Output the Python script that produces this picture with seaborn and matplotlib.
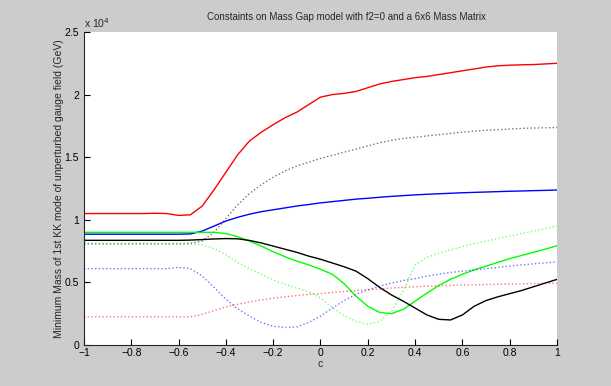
import numpy as np
import pandas as pd
import matplotlib
matplotlib.use("Agg")
import matplotlib.pyplot as plt
import seaborn as sns
from matplotlib.ticker import FuncFormatter

# c values (x axis)
c = np.round(np.arange(-1.0, 1.0001, 0.05), 2)

red_solid = [10500, 10500, 10500, 10500, 10500, 10500, 10520, 10500, 10350, 10400,
             11100, 12400, 13800, 15200, 16300, 17000, 17600, 18150, 18600, 19200,
             19800, 20000, 20100, 20250, 20550, 20850, 21050, 21200, 21350, 21450,
             21600, 21750, 21900, 22050, 22200, 22300, 22350, 22380, 22400, 22450, 22500]
black_dotted = [8100, 8100, 8100, 8100, 8100, 8100, 8100, 8100, 8100, 8120,
                8300, 9000, 10100, 11200, 12100, 12800, 13400, 13900, 14300, 14600,
                14900, 15150, 15400, 15650, 15900, 16150, 16350, 16500, 16600, 16700,
                16800, 16900, 17000, 17080, 17150, 17200, 17250, 17300, 17330, 17350, 17370]
blue_solid = [8850, 8850, 8850, 8850, 8850, 8850, 8850, 8850, 8850, 8870,
              9100, 9500, 9900, 10200, 10450, 10650, 10800, 10950, 11100, 11220,
              11350, 11450, 11550, 11650, 11720, 11800, 11870, 11930, 11990, 12040,
              12080, 12120, 12160, 12190, 12220, 12250, 12280, 12300, 12330, 12350, 12380]
green_solid = [9000, 9000, 9000, 9000, 9000, 9000, 9000, 9000, 9000, 9000,
               9000, 9000, 8900, 8650, 8300, 7900, 7450, 7050, 6700, 6400,
               6050, 5650, 4900, 3900, 3100, 2600, 2500, 2850, 3500, 4150,
               4750, 5250, 5650, 6000, 6300, 6600, 6900, 7150, 7400, 7650, 7930]
black_solid = [8360, 8360, 8360, 8360, 8360, 8360, 8360, 8360, 8360, 8380,
               8420, 8470, 8500, 8480, 8350, 8150, 7900, 7650, 7400, 7100,
               6850, 6550, 6250, 5900, 5300, 4600, 4000, 3500, 2950, 2400,
               2050, 2000, 2400, 3100, 3550, 3850, 4100, 4350, 4650, 4950, 5240]
green_dotted = [8050, 8050, 8050, 8050, 8050, 8050, 8050, 8050, 8050, 8050,
                8000, 7700, 7200, 6600, 6100, 5650, 5200, 4850, 4550, 4250,
                3750, 3000, 2350, 1900, 1650, 1900, 2700, 4300, 6400, 7000,
                7350, 7600, 7850, 8100, 8300, 8500, 8700, 8900, 9100, 9300, 9500]
blue_dotted = [6100, 6100, 6100, 6100, 6100, 6100, 6100, 6100, 6200, 6100,
               5500, 4600, 3650, 2900, 2300, 1800, 1500, 1400, 1450, 1800,
               2300, 2950, 3550, 4050, 4400, 4700, 4950, 5150, 5300, 5500,
               5650, 5800, 5900, 6000, 6100, 6200, 6300, 6400, 6480, 6560, 6650]
red_dotted = [2250, 2250, 2250, 2250, 2250, 2250, 2250, 2250, 2250, 2250,
              2450, 2750, 3050, 3250, 3450, 3600, 3750, 3850, 3950, 4050,
              4100, 4200, 4280, 4350, 4420, 4480, 4550, 4600, 4650, 4700,
              4730, 4760, 4790, 4810, 4830, 4850, 4870, 4890, 4910, 4920, 4930]

series = [
    (red_solid, "#ff0000", "-", 1.0),
    (black_dotted, "#000000", ":", 0.55),
    (blue_solid, "#0000ff", "-", 1.0),
    (green_solid, "#00ff00", "-", 1.0),
    (black_solid, "#000000", "-", 1.0),
    (green_dotted, "#00ff00", ":", 0.55),
    (blue_dotted, "#0000ff", ":", 0.55),
    (red_dotted, "#ff0000", ":", 0.55),
]

sns.set_style("ticks")
plt.rcParams["font.family"] = ["Liberation Sans", "DejaVu Sans"]
plt.rcParams["font.size"] = 7.5

fig = plt.figure(figsize=(6.11, 3.86), dpi=100, facecolor="#cccccc")
ax = fig.add_axes([84 / 611, 1 - 345 / 386, 473 / 611, 313 / 386])
ax.set_facecolor("white")

for vals, col, ls, a in series:
    df = pd.DataFrame({"c": c, "m": vals})
    sns.lineplot(data=df, x="c", y="m", ax=ax, color=col, linestyle=ls,
                 linewidth=1.0, alpha=a)

ax.set_xlim(-1, 1)
ax.set_ylim(0, 25000)
ax.set_xticks(np.arange(-1, 1.01, 0.2))
ax.set_xticklabels(["\u22121", "\u22120.8", "\u22120.6", "\u22120.4", "\u22120.2",
                    "0", "0.2", "0.4", "0.6", "0.8", "1"])
ax.set_yticks(np.arange(0, 25001, 5000))
ax.yaxis.set_major_formatter(FuncFormatter(lambda v, p: "%g" % (v / 1e4)))
ax.tick_params(direction="in", length=4, width=0.8, labelsize=7.5, colors="black")
ax.tick_params(axis="x", pad=2)
sns.despine(ax=ax)
for s in ["left", "bottom"]:
    ax.spines[s].set_linewidth(0.8)

ax.text(0.0, 1.005, "x 10$^4$", transform=ax.transAxes, fontsize=7.5,
        ha="left", va="bottom")
fig.text(346 / 611, 1 - 17 / 386,
         "Constaints on Mass Gap model with f2=0 and a 6x6 Mass Matrix",
         fontsize=7, ha="center", va="center")
ax.set_xlabel("c", fontsize=7.5, labelpad=1)
ax.set_ylabel("Minimum Mass of 1st KK mode of unperturbed gauge field (GeV)",
              fontsize=7.5, labelpad=0.5)

fig.savefig("out.png", dpi=100, facecolor=fig.get_facecolor())
